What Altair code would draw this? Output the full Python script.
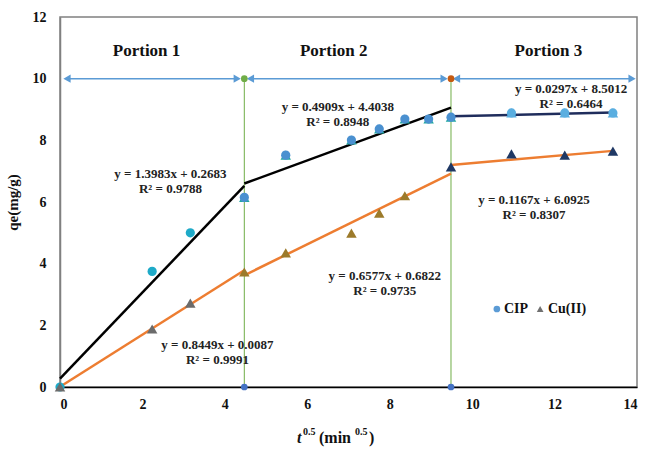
import altair as alt
import pandas as pd

# ---------------- data ----------------
t_sqrt = [0, 2.236, 3.162, 4.472, 5.477, 7.071, 7.746, 8.367, 8.944, 9.487, 10.954, 12.247, 13.416]
cip_qe = [0, 3.75, 5.0, 6.15, 7.52, 8.01, 8.37, 8.69, 8.69, 8.75, 8.89, 8.89, 8.89]
cip_portion = [1, 1, 1, 2, 2, 2, 2, 2, 2, 2, 3, 3, 3]

cu_t = [0, 2.236, 3.162, 4.472, 5.477, 7.071, 7.746, 8.367, 9.487, 10.954, 12.247, 13.416]
cu_qe = [0, 1.88, 2.72, 3.73, 4.35, 4.99, 5.64, 6.2, 7.14, 7.56, 7.52, 7.65]
cu_portion = [1, 1, 1, 2, 2, 2, 2, 2, 3, 3, 3, 3]

# trendlines: slope, intercept, x start, x end
fit_series = ["CIP1", "CIP2", "CIP3", "Cu1", "Cu2", "Cu3"]
fit_slope = [1.3983, 0.4909, 0.0297, 0.8449, 0.6577, 0.1167]
fit_icpt = [0.2683, 4.4038, 8.5012, 0.0087, 0.6822, 6.0925]
fit_x0 = [0, 4.472, 9.487, 0, 4.472, 9.487]
fit_x1 = [4.472, 9.487, 13.416, 4.472, 9.487, 13.416]
fit_color = ["#000000", "#000000", "#1f2d5c", "#ed7d31", "#ed7d31", "#ed7d31"]

boundaries = [4.472, 9.487]
top_dot_colors = ["#70ad47", "#c55a11"]

arrow_x0 = [0.17, 4.62, 9.62]
arrow_x1 = [4.30, 9.32, 13.88]
arrow_y = 10

portion_labels = ["Portion 1", "Portion 2", "Portion 3"]
portion_x = [2.1, 6.64, 11.85]
portion_y = 10.9

eq_text = ["y = 1.3983x + 0.2683", "R\u00b2 = 0.9788",
           "y = 0.4909x + 4.4038", "R\u00b2 = 0.8948",
           "y = 0.0297x + 8.5012", "R\u00b2 = 0.6464",
           "y = 0.1167x + 6.0925", "R\u00b2 = 0.8307",
           "y = 0.6577x + 0.6822", "R\u00b2 = 0.9735",
           "y = 0.8449x + 0.0087", "R\u00b2 = 0.9991"]
eq_x = [2.68, 2.68, 6.74, 6.74, 12.4, 12.4, 11.5, 11.5, 7.88, 7.88, 3.82, 3.82]
eq_y = [6.92, 6.43, 9.09, 8.6, 9.67, 9.19, 6.07, 5.58, 3.6, 3.12, 1.36, 0.88]

FONT = "Liberation Serif"

# ---------------- tables ----------------
cip_df = pd.DataFrame({"x": t_sqrt, "y": cip_qe, "p": cip_portion})
cu_df = pd.DataFrame({"x": cu_t, "y": cu_qe, "p": cu_portion})

fit_rows = []
for s, m, b, a0, a1, c in zip(fit_series, fit_slope, fit_icpt, fit_x0, fit_x1, fit_color):
    fit_rows.append({"s": s, "x": a0, "y": m * a0 + b, "c": c, "o": 0})
    fit_rows.append({"s": s, "x": a1, "y": m * a1 + b, "c": c, "o": 1})
fit_df = pd.DataFrame(fit_rows)

bnd_df = pd.DataFrame({"x": boundaries, "y0": [0, 0], "y1": [10, 10], "c": top_dot_colors})
arr_df = pd.DataFrame({"x0": arrow_x0, "x1": arrow_x1, "y": [arrow_y] * 3})
port_df = pd.DataFrame({"t": portion_labels, "x": portion_x, "y": [portion_y] * 3})
eq_df = pd.DataFrame({"t": eq_text, "x": eq_x, "y": eq_y})

XS = alt.Scale(domain=[0, 14], nice=False)
YS = alt.Scale(domain=[0, 12], nice=False)
XA = alt.Axis(values=list(range(0, 15, 2)), title=None, grid=False, ticks=False,
              domainColor="#000000", domainWidth=1.5, labelFont=FONT,
              labelFontWeight="bold", labelFontSize=14, labelColor="#111111",
              labelPadding=10)
YA = alt.Axis(values=list(range(0, 13, 2)), title="qe(mg/g)", grid=False, ticks=False,
              domainColor="#808080", domainWidth=1.5, labelFont=FONT,
              labelFontWeight="bold", labelFontSize=14, labelColor="#111111",
              labelPadding=14, titleFont=FONT, titleFontSize=15,
              titleFontWeight="bold", titleColor="#111111", titlePadding=12)

base = alt.Chart(cip_df)

# vertical boundary lines
vlines = alt.Chart(bnd_df).mark_rule(color="#70ad47", strokeWidth=1).encode(
    x=alt.X("x:Q", scale=XS, axis=XA), y=alt.Y("y0:Q", scale=YS, axis=YA), y2="y1:Q")

# arrows
arr_line = alt.Chart(arr_df).mark_rule(color="#5b9bd5", strokeWidth=1.5).encode(
    x="x0:Q", x2="x1:Q", y="y:Q")
arr_left = alt.Chart(arr_df).mark_point(shape="triangle-left", filled=True, color="#5b9bd5",
                                        size=70, opacity=1).encode(x="x0:Q", y="y:Q")
arr_right = alt.Chart(arr_df).mark_point(shape="triangle-right", filled=True, color="#5b9bd5",
                                         size=70, opacity=1).encode(x="x1:Q", y="y:Q")

top_dots = alt.Chart(bnd_df).mark_circle(size=45, opacity=1).encode(
    x="x:Q", y="y1:Q", color=alt.Color("c:N", scale=None))
bot_dots = alt.Chart(bnd_df).mark_circle(size=45, opacity=1, color="#4472c4").encode(
    x="x:Q", y="y0:Q")

# fitted lines
fits = alt.Chart(fit_df).mark_line(strokeWidth=2.5).encode(
    x="x:Q", y="y:Q", detail="s:N", order="o:Q", color=alt.Color("c:N", scale=None))

# CIP markers: triangle underlay (portions 2-3) + circle
cip_tri_color = alt.Color("p:N", scale=alt.Scale(domain=[1, 2, 3],
                                                 range=["#20a8a0", "#20a8a0", "#5aaee0"]), legend=None)
cip_tri = base.transform_filter("datum.p > 1").mark_point(
    shape="triangle-up", filled=True, size=110, opacity=1).encode(
    x="x:Q", y="y:Q", color=cip_tri_color)
cip_circ = base.mark_circle(size=85, opacity=1).encode(
    x="x:Q", y="y:Q",
    color=alt.Color("p:N", scale=alt.Scale(domain=[1, 2, 3],
                                           range=["#1eaac8", "#4a90d0", "#5aaee0"]), legend=None))

cu_pts = alt.Chart(cu_df).mark_point(shape="triangle-up", filled=True, size=110, opacity=1).encode(
    x="x:Q", y="y:Q",
    color=alt.Color("p:N", scale=alt.Scale(domain=[1, 2, 3],
                                           range=["#6b6b6b", "#9c7a2a", "#1f3864"]), legend=None))

# texts
port_txt = alt.Chart(port_df).mark_text(font=FONT, fontWeight="bold", fontSize=17,
                                        color="#111111").encode(x="x:Q", y="y:Q", text="t:N")
eq_txt = alt.Chart(eq_df).mark_text(font=FONT, fontWeight="bold", fontSize=13,
                                    color="#222222").encode(x="x:Q", y="y:Q", text="t:N")

# legend (manual)
leg_df = pd.DataFrame({"x": [10.6], "y": [2.53]})
leg_c = alt.Chart(leg_df).mark_circle(size=45, opacity=1, color="#5b9bd5").encode(x="x:Q", y="y:Q")
leg_t = alt.Chart(pd.DataFrame({"x": [11.65], "y": [2.53]})).mark_point(
    shape="triangle-up", filled=True, size=45, opacity=1, color="#707070").encode(x="x:Q", y="y:Q")
leg_txt = alt.Chart(pd.DataFrame({"x": [10.77, 11.84], "y": [2.53, 2.53], "t": ["CIP", "Cu(II)"]})).mark_text(
    font=FONT, fontWeight="bold", fontSize=14, align="left", color="#111111").encode(
    x="x:Q", y="y:Q", text="t:N")

# x axis title pieces (pixel positions relative to plot area)
def ttext(t, px, py, size, italic=False):
    return alt.Chart(pd.DataFrame({"t": [t]})).mark_text(
        font=FONT, fontWeight="bold", fontSize=size, fontStyle="italic" if italic else "normal",
        align="left", baseline="alphabetic", color="#111111").encode(
        x=alt.value(px), y=alt.value(py), text="t:N")

xt = (ttext("t", 237, 426, 16, True) + ttext("0.5", 243, 418, 10)
      + ttext("(min", 259, 426, 16) + ttext("0.5", 295, 418, 10) + ttext(")", 309, 426, 16))

chart = alt.layer(
    vlines, arr_line, arr_left, arr_right, fits, cip_tri, cip_circ, cu_pts,
    top_dots, bot_dots, port_txt, eq_txt, leg_c, leg_t, leg_txt, xt
).resolve_scale(color="independent").properties(
    width=577, height=370,
    autosize=alt.AutoSizeParams(type="none"),
    padding={"left": 60, "top": 17, "right": 8, "bottom": 62},
    background="white",
).configure_view(stroke="#808080", strokeWidth=1.5)

chart.save("out.html", embed_options={"renderer": "svg", "actions": False})
